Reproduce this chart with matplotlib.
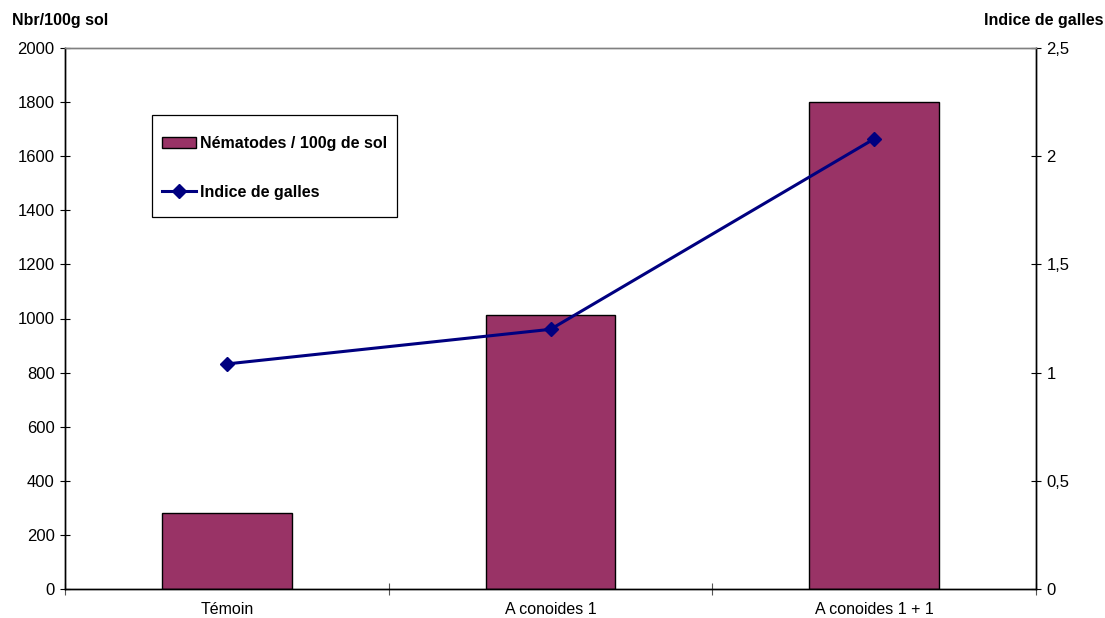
import numpy as np
import matplotlib.pyplot as plt
from matplotlib.patches import Rectangle

plt.rcParams["font.family"] = ["Liberation Sans", "DejaVu Sans"]

categories = ["Témoin", "A conoides 1", "A conoides 1 + 1"]
nematodes = [280, 1013, 1800]
indice_galles = [1.04, 1.20, 2.08]

BAR_COLOR = "#993366"
LINE_COLOR = "#000080"
W, H = 1105, 618

fig = plt.figure(figsize=(W / 100, H / 100), dpi=100)
ax = fig.add_axes([65 / W, 1 - 589 / H, (1036 - 65) / W, (589 - 48) / H])
ax2 = ax.twinx()

x = np.arange(len(categories))
ax.bar(x, nematodes, width=0.4, color=BAR_COLOR, edgecolor="black", linewidth=1,
       label="Nématodes / 100g de sol", zorder=2)
ax2.plot(x, indice_galles, color=LINE_COLOR, lw=2.2, marker="D", ms=7,
         label="Indice de galles", zorder=3)

ax.set_xlim(-0.5, 2.5)
ax.set_ylim(0, 2000)
ax2.set_ylim(0, 2.5)
ax.set_yticks(range(0, 2001, 200))
ax2.set_yticks([0, 0.5, 1, 1.5, 2, 2.5])
ax2.set_yticklabels(["0", "0,5", "1", "1,5", "2", "2,5"])

# category boundary ticks, labels centred in each category
ax.set_xticks([-0.5, 0.5, 1.5, 2.5])
ax.set_xticklabels([])
ax.set_xticks(x, minor=True)
ax.set_xticklabels(categories, minor=True)
ax.tick_params(axis="x", which="minor", length=0, pad=9, labelsize=11.5)
ax.tick_params(axis="x", which="major", direction="inout", length=8, width=0.8, color="#555555")
ax.tick_params(axis="y", direction="inout", length=7, width=0.8, pad=4, labelsize=12)
ax2.tick_params(axis="y", direction="inout", length=7, width=0.8, pad=4, labelsize=12)

for a in (ax, ax2):
    a.spines["top"].set_color("#808080")
    a.spines["top"].set_linewidth(1)
    for s in ("left", "right", "bottom"):
        a.spines[s].set_linewidth(1)

fig.text(12 / W, 1 - 20 / H, "Nbr/100g sol", fontsize=11.5, fontweight="bold",
         ha="left", va="center")
fig.text(1103 / W, 1 - 20 / H, "Indice de galles", fontsize=11.5, fontweight="bold",
         ha="right", va="center")

# legend frame drawn separately so the inner padding matches
fig.patches.append(Rectangle((152 / W, 1 - 217 / H), (397 - 152) / W, (217 - 115) / H,
                             transform=fig.transFigure, facecolor="white",
                             edgecolor="black", linewidth=0.9, zorder=4))
h1, l1 = ax.get_legend_handles_labels()
h2, l2 = ax2.get_legend_handles_labels()
leg = fig.legend(h1 + h2, l1 + l2, loc="center left",
                 bbox_to_anchor=(162 / W, 1 - 168 / H),
                 frameon=False, prop={"weight": "bold", "size": 11.5},
                 labelspacing=2.1, borderpad=0, handlelength=2.1,
                 handletextpad=0.3, borderaxespad=0)
leg.set_zorder(5)

fig.savefig("out.png", dpi=100)
